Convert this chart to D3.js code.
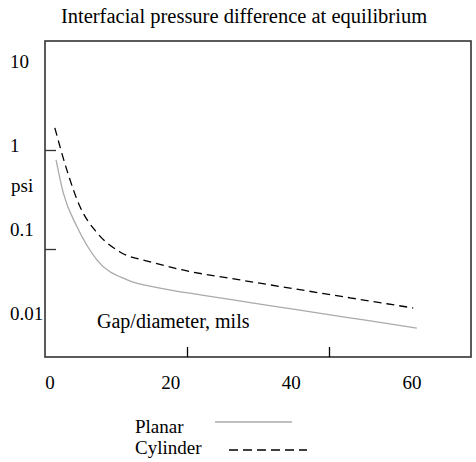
<!DOCTYPE html>
<html>
<head>
<meta charset="utf-8">
<script src="https://cdn.jsdelivr.net/npm/d3@7"></script>
<style>
  body { margin: 0; background: #fff; }
</style>
</head>
<body>
<svg id="chart" width="476" height="462"></svg>
<script>
// data (x = gap/diameter in mils, y = psi)
const planarX = [1, 2.2, 4.5, 7.8, 12.8, 18.2, 24.9, 33.2, 41.4, 49.7, 60.8];
const planarY = [0.69, 0.278, 0.109, 0.044, 0.0255, 0.0204, 0.0169, 0.0137, 0.0111, 0.009, 0.0068];
const cylinderX = [0.8, 2.8, 5, 7.8, 11.6, 16.6, 22, 31.5, 41.4, 49.7, 60.2];
const cylinderY = [1.66, 0.52, 0.189, 0.093, 0.055, 0.042, 0.0335, 0.0255, 0.0195, 0.0156, 0.0118];

const xTickLabels = [0, 20, 40, 60];
const yTickLabels = [10, 1, 0.1, 0.01];
const frameXTicks = [20, 40];
const frameYTicks = [1, 0.1];

const title = "Interfacial pressure difference at equilibrium";
const xTitle = "Gap/diameter, mils";
const yTitle = "psi";
const seriesNames = ["Planar", "Cylinder"];

const svg = d3.select("#chart");

// plot scales (labels + curves)
const x = d3.scaleLinear().domain([0, 60]).range([50, 412]);
const y = d3.scaleLog().domain([0.01, 10]).range([314, 62.5]);

// frame scales (the little tick marks on the box)
const fx = d3.scaleLinear().domain([0, 60]).range([45, 471]);
const fy = d3.scaleLog().domain([0.01, 10]).range([348, 51]);

// title
svg.append("text")
    .attr("x", 244).attr("y", 23)
    .attr("text-anchor", "middle")
    .attr("font-size", "20.5px")
    .text(title);

// frame box
svg.append("rect")
    .attr("x", 45).attr("y", 41)
    .attr("width", 426).attr("height", 316)
    .attr("fill", "none")
    .attr("stroke", "#333")
    .attr("stroke-width", 1.6);

// inward ticks
const yAxis = svg.append("g")
    .attr("transform", "translate(45,0)")
    .call(d3.axisRight(fy).tickValues(frameYTicks).tickSize(11).tickFormat(""));
yAxis.select(".domain").remove();
yAxis.selectAll("line").attr("stroke", "#333").attr("stroke-width", 1.3);

const xAxis = svg.append("g")
    .attr("transform", "translate(0,357)")
    .call(d3.axisTop(fx).tickValues(frameXTicks).tickSize(10).tickFormat(""));
xAxis.select(".domain").remove();
xAxis.selectAll("line").attr("stroke", "#000").attr("stroke-width", 1.3);

// tick labels
svg.selectAll(".xlab")
    .data(xTickLabels)
    .enter().append("text")
    .attr("class", "xlab")
    .attr("x", d => x(d))
    .attr("y", 389)
    .attr("text-anchor", "middle")
    .attr("font-size", "19px")
    .text(d => d);

svg.selectAll(".ylab")
    .data(yTickLabels)
    .enter().append("text")
    .attr("class", "ylab")
    .attr("x", 10)
    .attr("y", d => y(d))
    .attr("dy", "0.3em")
    .attr("font-size", "19px")
    .text(d => d);

svg.append("text")
    .attr("x", 11)
    .attr("y", (y(1) + y(0.1)) / 2)
    .attr("dy", "0.2em")
    .attr("font-size", "19px")
    .text(yTitle);

svg.append("text")
    .attr("x", 97).attr("y", 328)
    .attr("font-size", "20px")
    .text(xTitle);

// curves
const line = d3.line()
    .x(d => x(d[0]))
    .y(d => y(d[1]))
    .curve(d3.curveMonotoneX);

svg.append("path")
    .datum(d3.zip(planarX, planarY))
    .attr("d", line)
    .attr("fill", "none")
    .attr("stroke", "#aaa")
    .attr("stroke-width", 1.3);

svg.append("path")
    .datum(d3.zip(cylinderX, cylinderY))
    .attr("d", line)
    .attr("fill", "none")
    .attr("stroke", "#000")
    .attr("stroke-width", 1.3)
    .attr("stroke-dasharray", "8,5");

// legend
const legend = svg.append("g");
legend.append("text").attr("x", 135).attr("y", 433).attr("font-size", "19px").text(seriesNames[0]);
legend.append("text").attr("x", 135).attr("y", 454).attr("font-size", "19px").text(seriesNames[1]);
legend.append("line")
    .attr("x1", 215).attr("x2", 292).attr("y1", 422).attr("y2", 422)
    .attr("stroke", "#aaa").attr("stroke-width", 1.3);
legend.append("line")
    .attr("x1", 229).attr("x2", 307).attr("y1", 450).attr("y2", 450)
    .attr("stroke", "#000").attr("stroke-width", 1.3)
    .attr("stroke-dasharray", "9,5");

// serif everywhere
svg.selectAll("text")
    .style("font-family", '"Liberation Serif"')
    .attr("fill", "#000");
</script>
</body>
</html>
